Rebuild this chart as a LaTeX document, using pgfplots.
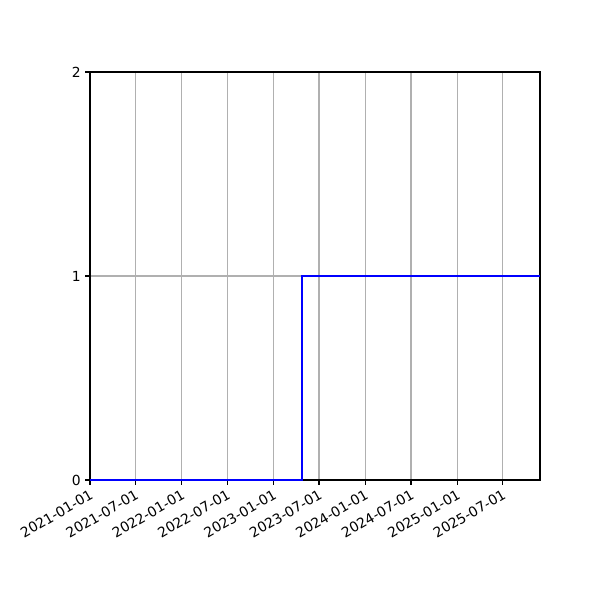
\documentclass[border=0pt]{standalone}
\usepackage{fontspec}
\setmainfont{DejaVu Sans}
\usepackage{pgfplots}
\pgfplotsset{compat=1.18}
\definecolor{gridgray}{HTML}{B0B0B0}
\begin{document}
\begin{tikzpicture}
\useasboundingbox (-64.8pt,-86.4pt) rectangle (367.2pt,345.6pt);
% x values are days since 2021-01-01
\begin{axis}[
  at={(0,0)}, anchor=south west,
  scale only axis, width=324pt, height=293.76pt,
  xmin=0, xmax=1790, ymin=0, ymax=2,
  xtick={0,181,365,546,730,911,1095,1277,1461,1642},
  xticklabels={2021-01-01,2021-07-01,2022-01-01,2022-07-01,2023-01-01,2023-07-01,2024-01-01,2024-07-01,2025-01-01,2025-07-01},
  ytick={0,1,2},
  xtick pos=bottom, ytick pos=left,
  tick align=outside, major tick length=3.5pt,
  every tick/.style={black, line width=0.8pt},
  axis line style={line width=0.8pt},
  grid=major,
  major grid style={gridgray, line width=0.8pt},
  tick label style={font=\fontsize{10}{12}\selectfont},
  /pgf/number format/assume math mode=true,
  xticklabel style={rotate=30, anchor=north east, inner sep=2pt},
  yticklabel style={inner sep=3pt},
]
\addplot[const plot, color={rgb,255:red,0;green,0;blue,255}, line width=1.5pt] coordinates {
  (0,0) (842,1) (1790,1)
};
\end{axis}
\end{tikzpicture}
\end{document}
